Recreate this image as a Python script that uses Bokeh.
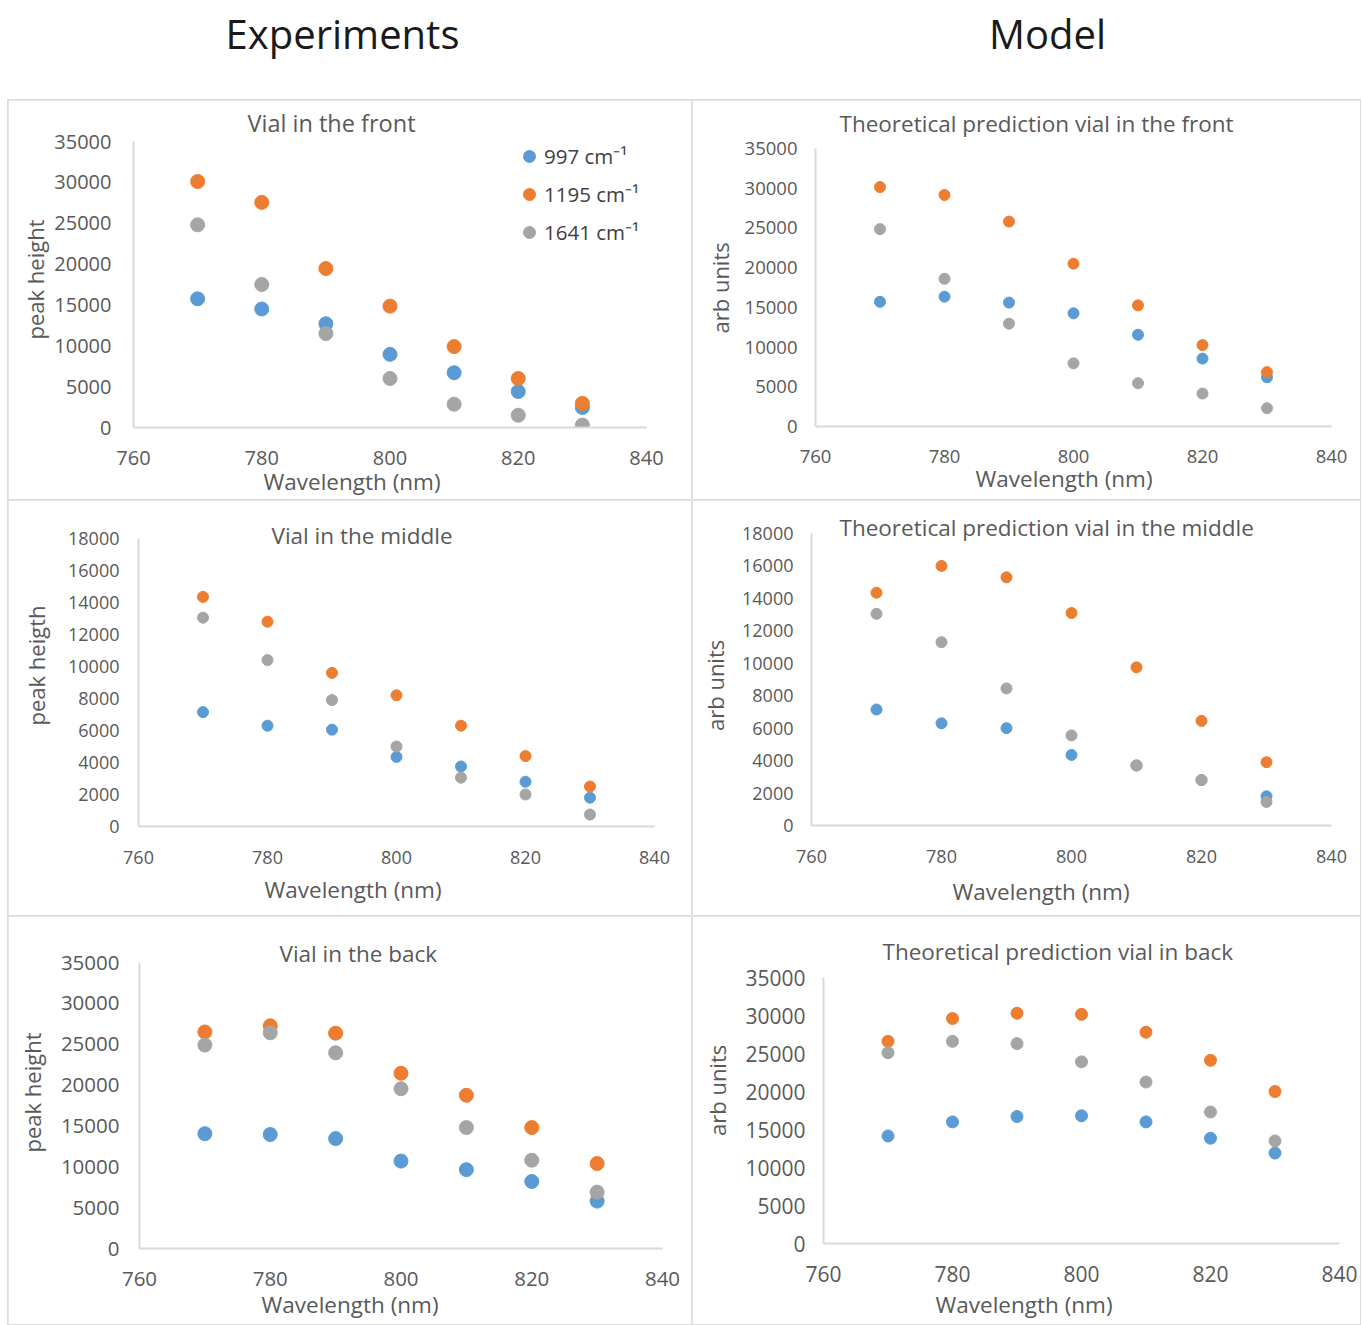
from bokeh.plotting import figure
from bokeh.layouts import column, row
from bokeh.models import Range1d, FixedTicker, Label, Legend, LegendItem, Title, Spacer
from bokeh.embed import file_html
from bokeh.resources import INLINE

# ---------------- data ----------------
wavelength = [770, 780, 790, 800, 810, 820, 830]
x_ticks = [760, 780, 800, 820, 840]
y_ticks_35k = [0, 5000, 10000, 15000, 20000, 25000, 30000, 35000]
y_ticks_18k = [0, 2000, 4000, 6000, 8000, 10000, 12000, 14000, 16000, 18000]
series_labels = ["997 cm\u207b\u00b9", "1195 cm\u207b\u00b9", "1641 cm\u207b\u00b9"]

exp_front_997 = [15750, 14500, 12700, 8950, 6700, 4400, 2450]
exp_front_1195 = [30100, 27550, 19450, 14850, 9900, 6000, 2950]
exp_front_1641 = [24800, 17500, 11500, 6000, 2850, 1500, 300]

model_front_997 = [15700, 16350, 15600, 14250, 11550, 8550, 6200]
model_front_1195 = [30150, 29150, 25800, 20500, 15250, 10250, 6850]
model_front_1641 = [24850, 18600, 12950, 7950, 5450, 4150, 2300]

exp_middle_997 = [7150, 6300, 6050, 4350, 3750, 2800, 1800]
exp_middle_1195 = [14350, 12800, 9600, 8200, 6300, 4400, 2500]
exp_middle_1641 = [13050, 10400, 7900, 5000, 3050, 2000, 750]

model_middle_997 = [7150, 6300, 6000, 4350, 3700, 2800, 1800]
model_middle_1195 = [14350, 16000, 15300, 13100, 9750, 6450, 3900]
model_middle_1641 = [13050, 11300, 8450, 5550, 3700, 2800, 1450]

exp_back_997 = [14050, 13950, 13450, 10700, 9650, 8200, 5800]
exp_back_1195 = [26500, 27250, 26350, 21450, 18750, 14800, 10400]
exp_back_1641 = [24900, 26400, 23950, 19550, 14800, 10800, 6900]

model_back_997 = [14150, 16000, 16700, 16800, 16000, 13850, 11900]
model_back_1195 = [26600, 29600, 30300, 30150, 27800, 24100, 20000]
model_back_1641 = [25100, 26600, 26300, 23900, 21250, 17300, 13500]

# ---------------- style ----------------
COLORS = ["#5B9BD5", "#ED7D31", "#A5A5A5"]
TXT = "#595959"
FONT = "Open Sans"
AXIS_COL = "#D9D9D9"


def panel(width, height, borders, ymax, yticks, series, msize, tick_fs,
          ystand, xstand, title, title_fs, title_off, title_so,
          xl_off, xl_so, ylabel, yl_off, yl_so, legend=False):
    left, right, top, bottom = borders
    p = figure(width=width, height=height, output_backend="svg",
               toolbar_location=None,
               x_range=Range1d(760, 840), y_range=Range1d(0, ymax),
               min_border_left=left, min_border_right=right,
               min_border_top=top, min_border_bottom=bottom)
    if "frame_align" in p.properties():
        p.frame_align = False
    p.styles = {"outline": "2px solid #DCDCDC", "outline-offset": "-1px"}
    p.xgrid.visible = False
    p.ygrid.visible = False
    p.outline_line_color = None
    p.xaxis.ticker = FixedTicker(ticks=x_ticks)
    p.yaxis.ticker = FixedTicker(ticks=yticks)
    for ax in (p.xaxis[0], p.yaxis[0]):
        ax.axis_line_color = AXIS_COL
        ax.axis_line_width = 2
        ax.major_tick_line_color = None
        ax.minor_tick_line_color = None
        ax.major_tick_out = 0
        ax.major_tick_in = 0
        ax.major_label_text_color = TXT
        ax.major_label_text_font = FONT
        ax.major_label_text_font_size = f"{tick_fs}px"
    p.xaxis.major_label_standoff = xstand
    p.yaxis.major_label_standoff = ystand

    # chart title (above)
    p.title.text = title
    p.title.align = "left"
    p.title.offset = title_off
    p.title.standoff = title_so
    p.title.vertical_align = "top"
    p.title.text_font = FONT
    p.title.text_font_size = f"{title_fs}px"
    p.title.text_font_style = "normal"
    p.title.text_color = TXT

    # x axis title (below the axis)
    p.add_layout(Title(text="Wavelength (nm)", align="left", offset=xl_off,
                       standoff=xl_so, vertical_align="bottom", text_font=FONT,
                       text_font_size="22.5px", text_font_style="normal",
                       text_color=TXT), "below")
    # y axis title (left of the axis)
    p.add_layout(Title(text=ylabel, align="left", offset=yl_off,
                       standoff=yl_so, vertical_align="top", text_font=FONT,
                       text_font_size="22px", text_font_style="normal",
                       text_color=TXT), "left")

    rends = []
    for vals, col in zip(series, COLORS):
        r = p.scatter(wavelength, vals, size=msize, fill_color=col,
                      line_color=col, marker="circle")
        rends.append(r)

    if legend:
        lg = Legend(items=[LegendItem(label=l, renderers=[r])
                           for l, r in zip(series_labels, rends)],
                    location=(381, 180), padding=0, margin=0, spacing=8,
                    label_height=30, glyph_height=30, glyph_width=30,
                    label_standoff=0, background_fill_alpha=0,
                    border_line_color=None, label_text_font=FONT,
                    label_text_font_size="20.5px", label_text_color="#404040")
        p.add_layout(lg)
    return p


p1 = panel(684, 400, (125, 46, 41, 73), 35000, y_ticks_35k,
           [exp_front_997, exp_front_1195, exp_front_1641], 14, 20, 22, 23,
           "Vial in the front", 23.5, 114, 2,
           130, -6.6, "peak height", 88, -2.4, legend=True)
p2 = panel(668, 400, (123, 29, 48, 74), 35000, y_ticks_35k,
           [model_front_997, model_front_1195, model_front_1641], 11, 18.5, 18, 23,
           "Theoretical prediction vial in the  front", 22.5, 24, 15.4,
           160, -7.6, "arb units", 93, 10.2)
p3 = panel(684, 416, (129, 38, 38, 90), 18000, y_ticks_18k,
           [exp_middle_997, exp_middle_1195, exp_middle_1641], 11, 18, 19, 24,
           "Vial in the middle", 22.5, 133, -36.6,
           126, 11.4, "peak heigth", 101, 25)
p4 = panel(668, 416, (118, 29, 33, 91), 18000, y_ticks_18k,
           [model_middle_997, model_middle_1195, model_middle_1641], 11, 18, 18, 24,
           "Theoretical prediction  vial in the middle", 22.5, 28, -22.6,
           141, 17.4, "arb units", 94.5, 15)
p5 = panel(684, 408, (129, 30, 46, 76), 35000, y_ticks_35k,
           [exp_back_997, exp_back_1195, exp_back_1641], 14, 20.5, 20, 23,
           "Vial in the back", 22.5, 140, -16.6,
           122, -1.6, "peak height", 96, 16.8)
p6 = panel(668, 408, (128, 21, 61, 81), 35000, y_ticks_35k,
           [model_back_997, model_back_1195, model_back_1641], 12, 21, 18, 22,
           "Theoretical prediction vial in back", 22.5, 59, 17.4,
           112, 5.4, "arb units", 107.5, 18)

header = figure(width=1360, height=100, output_backend="svg", toolbar_location=None,
                x_range=Range1d(0, 1), y_range=Range1d(0, 1),
                x_axis_type=None, y_axis_type=None, min_border=0)
header.outline_line_color = None
header.xgrid.visible = False
header.ygrid.visible = False
for txt, xc in (("Experiments", 342), ("Model", 1047)):
    header.add_layout(Label(x=xc, y=67, x_units="screen", y_units="screen",
                            text=txt, text_align="center", text_baseline="middle",
                            text_font=FONT, text_font_size="40px",
                            text_color="#1A1A1A"))

layout = column(header,
                row(Spacer(width=8), p1, p2),
                row(Spacer(width=8), p3, p4),
                row(Spacer(width=8), p5, p6))

open("out.html", "w").write(file_html(layout, INLINE))
